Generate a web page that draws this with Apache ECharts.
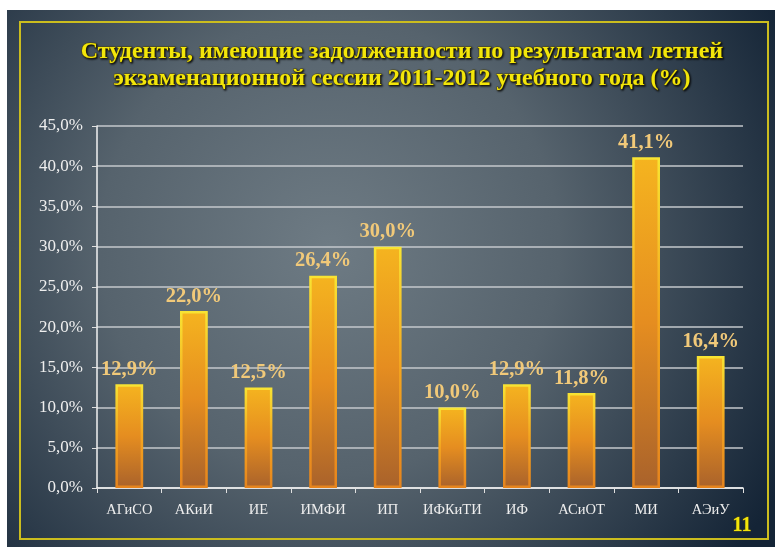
<!DOCTYPE html>
<html>
<head>
<meta charset="utf-8">
<script src="https://cdn.jsdelivr.net/npm/echarts@6/dist/echarts.min.js"></script>
<style>
  html, body { margin: 0; padding: 0; background: #ffffff; }
  #chart { width: 775px; height: 547px; }
</style>
</head>
<body>
<div id="chart"></div>
<script>
// данные с картинки
const categories = ["АГиСО", "АКиИ", "ИЕ", "ИМФИ", "ИП", "ИФКиТИ", "ИФ", "АСиОТ", "МИ", "АЭиУ"];
const values = [12.9, 22.0, 12.5, 26.4, 30.0, 10.0, 12.9, 11.8, 41.1, 16.4];
const titleLines = [
  "Студенты, имеющие задолженности по результатам летней",
  "экзаменационной сессии 2011-2012 учебного года (%)"
];
const pageNumber = "11";

const fmt = (v) => v.toFixed(1).replace(".", ",") + "%";

const myChart = echarts.init(document.getElementById("chart"));

const option = {
  backgroundColor: "#ffffff",
  animation: false,
  title: {
    text: titleLines.join("\n"),
    left: 397,
    top: 33,
    textAlign: "center",
    textStyle: {
      color: "#f3e60a",
      fontFamily: "Liberation Serif",
      fontWeight: "bold",
      fontSize: 24,
      lineHeight: 27,
      align: "center",
      textBorderColor: "#5a5212",
      textBorderWidth: 1,
      textShadowColor: "rgba(0,0,0,0.8)",
      textShadowBlur: 2,
      textShadowOffsetX: 1,
      textShadowOffsetY: 1,
    },
  },
  graphic: [
    {
      type: "rect",
      z: -10,
      shape: { x: 7, y: 10, width: 768, height: 537 },
      style: {
        fill: new echarts.graphic.RadialGradient(0.42, 0.44, 0.95, [
          { offset: 0, color: "#6e7b84" },
          { offset: 0.45, color: "#56636d" },
          { offset: 1, color: "#142436" },
        ]),
      },
      silent: true,
    },
    {
      type: "rect",
      z: -9,
      shape: { x: 20, y: 22, width: 748, height: 517 },
      style: { fill: "none", stroke: "#cbbd1e", lineWidth: 2 },
      silent: true,
    },
    {
      type: "text",
      left: 732,
      top: 515,
      style: {
        text: pageNumber,
        fill: "#f3e60a",
        fontFamily: "Liberation Serif",
        fontWeight: "bold",
        fontSize: 20,
        stroke: "#5a5212",
        lineWidth: 1,
        shadowColor: "rgba(0,0,0,0.8)",
        shadowBlur: 2,
        shadowOffsetX: 1,
        shadowOffsetY: 1,
      },
    },
  ],
  grid: {
    left: 97,
    right: 32,
    top: 126,
    bottom: 59,
  },
  xAxis: {
    type: "category",
    data: categories,
    axisLine: { lineStyle: { color: "#f2f2f2", width: 1.5 } },
    axisTick: { show: true, length: 5, lineStyle: { color: "#e0e0e0" } },
    axisLabel: {
      interval: 0,
      color: "#eeeeee",
      fontFamily: "Liberation Serif",
      fontSize: 14.5,
      margin: 15,
    },
  },
  yAxis: {
    type: "value",
    min: 0,
    max: 45,
    interval: 5,
    axisLine: { show: true, lineStyle: { color: "#f2f2f2", width: 1.5 } },
    axisTick: { show: true, length: 5, lineStyle: { color: "#e0e0e0" } },
    splitLine: { lineStyle: { color: "#c4c8cc", width: 1.5 } },
    axisLabel: {
      color: "#eeeeee",
      fontFamily: "Liberation Serif",
      fontSize: 17,
      margin: 14,
      formatter: (v) => fmt(v),
    },
  },
  series: [
    {
      type: "bar",
      data: values,
      barWidth: "43%",
      itemStyle: {
        color: new echarts.graphic.LinearGradient(0, 0, 0, 1, [
          { offset: 0, color: "#f5b41f" },
          { offset: 0.5, color: "#e58d20" },
          { offset: 1, color: "#a9622b" },
        ]),
        borderColor: new echarts.graphic.LinearGradient(0, 0, 0, 1, [
          { offset: 0, color: "#f8e433" },
          { offset: 0.5, color: "#f4a51f" },
          { offset: 1, color: "#e6841d" },
        ]),
        borderWidth: 2.5,
      },
      label: {
        show: true,
        position: "top",
        distance: 4,
        color: "#f1c979",
        fontFamily: "Liberation Serif",
        fontWeight: "bold",
        fontSize: 20.5,
        formatter: (p) => fmt(p.value),
      },
    },
  ],
};

myChart.setOption(option);
</script>
</body>
</html>
